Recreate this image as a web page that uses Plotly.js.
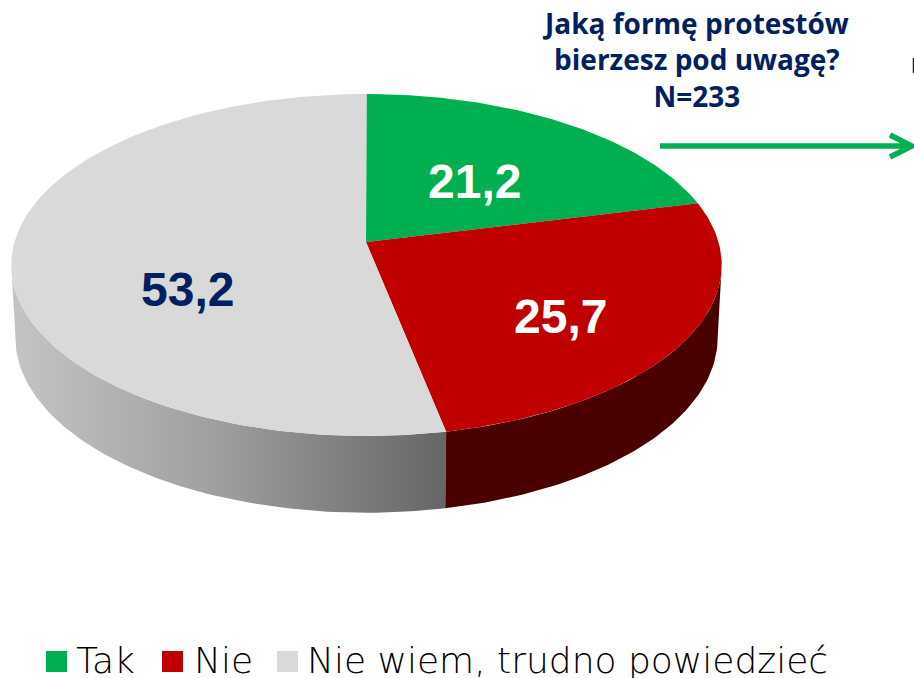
<!DOCTYPE html>
<html>
<head>
<meta charset="utf-8">
<script src="https://cdn.plot.ly/plotly-3.0.1.min.js"></script>
<style>html,body{margin:0;padding:0;background:#fff}#c{width:914px;height:678px}</style>
</head>
<body>
<div id="c"></div>
<script>
const categories = ["Tak", "Nie", "Nie wiem, trudno powiedzieć"];
const values = [21.2, 25.7, 53.2];
const faceColors = ["#00B050", "#C00000", "#D9D9D9"];
const valueColors = ["#FFFFFF", "#FFFFFF", "#002060"];
const valueAnchors = [[474, 181], [560, 316], [187, 289]];
const legendX = [56.5, 172.5, 287.5];
const legendTextX = [74, 192, 305];
const titleLines = ["Jaką formę protestów", "bierzesz pod uwagę?", "N=233"];

const TOP = {cx: 366.5, cy: 242, A: 167.9, B: 352, k: 0.1345};
const BOTTOM = {cx: 366.5, cy: 314, A: 172, B: 348, k: 0.1345};
function project(g, deg) {
  const t = deg * Math.PI / 180, u = Math.sin(t), v = Math.cos(t), w = 1 + g.k * v;
  return [g.cx + g.B * u / w, g.cy - g.A * v / w];
}
function arc(g, a, b) {
  const pts = [], n = Math.max(2, Math.ceil(Math.abs(b - a)));
  for (let i = 0; i <= n; i++) pts.push(project(g, a + (b - a) * i / n));
  return pts;
}
const total = values.reduce((s, v) => s + v, 0);
let acc = 0;
const bounds = values.map(v => { const a = acc; acc += v; return [a / total * 360, acc / total * 360]; });
const tangent = Math.asin(TOP.k) * 180 / Math.PI;

function poly(pts, extra) {
  return Object.assign({x: pts.map(p => p[0]), y: pts.map(p => p[1]), mode: "lines",
    line: {width: 0}, fill: "toself", hoverinfo: "skip", showlegend: false, type: "scatter"}, extra);
}
function side(a, b, extra) {
  return poly(arc(TOP, a, b).concat(arc(BOTTOM, b, a)), extra);
}
const traces = [];
traces.push(side(bounds[2][0], 270 - tangent, {
  fillcolor: "#999999",
  fillgradient: {type: "horizontal", start: 15, stop: 445,
    colorscale: [[0, "#c4c4c4"], [0.5, "#9c9c9c"], [1, "#666666"]]}
}));
traces.push(side(90 + tangent, bounds[1][1], {fillcolor: "#4A0000"}));
bounds.forEach((b, i) => {
  traces.push(poly([[366, TOP.cy]].concat(arc(TOP, b[0], b[1])), {fillcolor: faceColors[i], name: categories[i]}));
});
traces.push({type: "scatter", mode: "markers", x: legendX, y: [661.5, 661.5, 661.5],
  marker: {symbol: "square", size: 21, color: faceColors, line: {width: 0}},
  hoverinfo: "skip", showlegend: false});

const annotations = values.map((v, i) => ({
  x: valueAnchors[i][0], y: valueAnchors[i][1], xref: "x", yref: "y", showarrow: false,
  text: v.toFixed(1).replace(".", ","),
  font: {family: "Liberation Sans", size: 48, color: valueColors[i], weight: 700}
}));
categories.forEach((c, i) => annotations.push({
  x: legendTextX[i], y: 660, xref: "x", yref: "y", xanchor: "left", showarrow: false,
  text: c, font: {family: "DejaVu Sans", size: 36, color: "#000000", weight: 200}
}));
annotations.push({
  x: 695, y: 59, xref: "x", yref: "y", showarrow: false, align: "center",
  text: "<b>" + titleLines.join("<br>") + "</b>",
  font: {family: "Open Sans", size: 28, color: "#002060"}
});

const layout = {
  width: 914, height: 678, margin: {l: 0, r: 0, t: 0, b: 0},
  paper_bgcolor: "#fff", plot_bgcolor: "#fff", showlegend: false,
  xaxis: {range: [0, 914], visible: false, fixedrange: true},
  yaxis: {range: [678, 0], visible: false, fixedrange: true},
  annotations,
  shapes: [
    {type: "path", path: "M660,146 L912,146 M890,135 L912,146 L890,157", xref: "x", yref: "y",
     line: {color: "#00B050", width: 5.5}},
    {type: "line", x0: 913.5, x1: 913.5, y0: 58, y1: 73, xref: "x", yref: "y",
     line: {color: "#222222", width: 1.5}}
  ]
};
Plotly.newPlot("c", traces, layout, {displayModeBar: false, staticPlot: true});
</script>
</body>
</html>
